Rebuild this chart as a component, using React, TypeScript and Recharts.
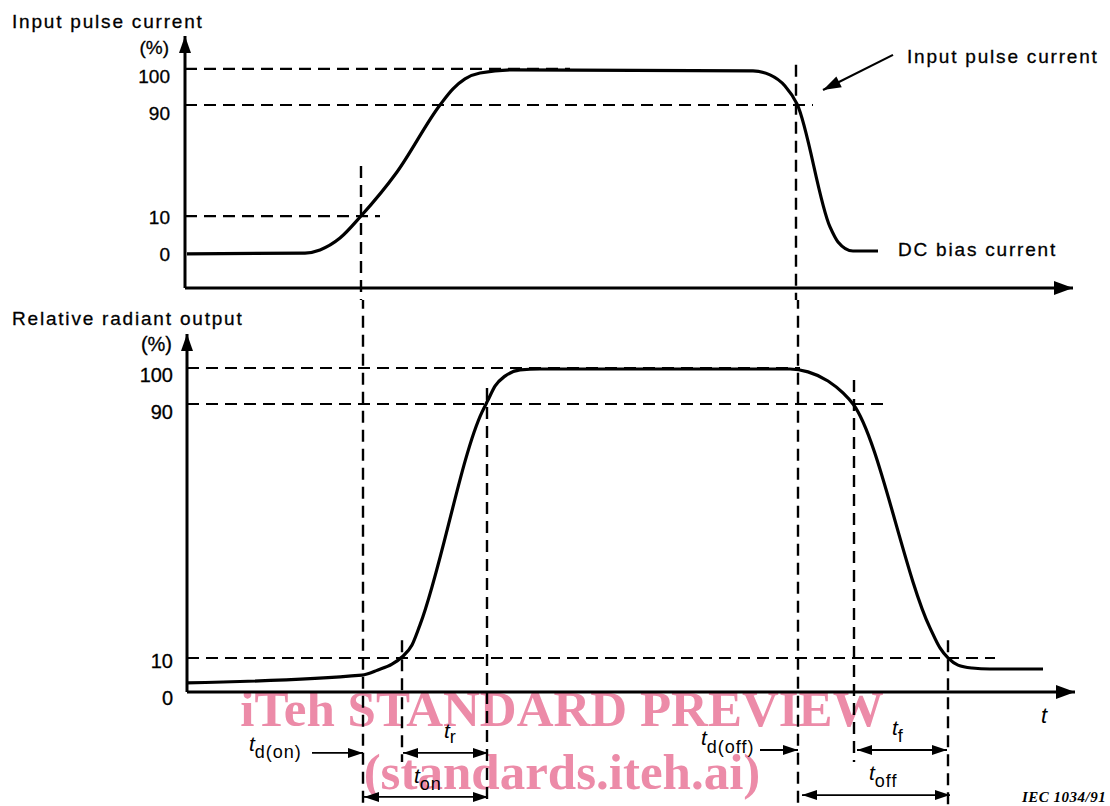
import React from "react";
import {
  LineChart,
  Line,
  XAxis,
  YAxis,
  ReferenceLine,
  ReferenceDot,
} from "recharts";

// The figure is a schematic, not to scale. Time runs in arbitrary steps
// along the t axis and "level" is the drawn height on each % scale, so the
// 10 % / 90 % ticks sit where the original drawing puts them.

const TIME_MAX = 88.8;

// ---- top panel: input pulse current ----
const inputTicks = [0, 20.5, 80.5, 100];
const inputTickLabels = ["0", "10", "90", "100"];
const inputTime = [0.2, 12, 13.5, 15.5, 17.6, 21.2, 25.5, 26.8, 28, 29.5, 32.8, 56.8, 58.5, 60, 61.2, 64.5, 65.3, 66.8, 69.3];
const inputLevel = [0, 0.5, 2.2, 8.6, 20.5, 44.3, 80.5, 89.2, 94.6, 97.8, 99.5, 98.9, 96.8, 90.8, 81.1, 14.6, 6.5, 1.6, 1.6];

// ---- bottom panel: relative radiant output ----
const outputTicks = [0, 10.5, 88.9, 100];
const outputTickLabels = ["0", "10", "90", "100"];
const outputTime = [0, 17.5, 19.1, 20.5, 21.5, 22.5, 23.3, 29.5, 30.1, 30.8, 31.8, 33.3, 35.3, 60.3, 62.1, 64.1, 65.6, 66.6, 74.3, 75.3, 76.1, 77.1, 78.5, 80.3, 85.6];
const outputLevel = [2.8, 5.2, 6.8, 8.6, 10.8, 14.5, 20.7, 86.4, 90.1, 94.4, 97.5, 99.4, 99.7, 99.7, 98.8, 96, 92.3, 88.9, 19.8, 13.6, 10.5, 8.3, 7.4, 7.1, 7.1];

// instants marked by the vertical guides
const T_IN_10 = 17.6; // input reaches 10 %
const T_OUT_10 = 21.5; // output reaches 10 %
const T_OUT_90 = 30.0; // output reaches 90 %
const T_IN_90_FALL = 61.1; // input back down to 90 %
const T_OUT_90_FALL = 66.7;
const T_OUT_10_FALL = 76.1;

const inputVerticals = [
  { t: T_IN_10, from: 47.6, to: -27 },
  { t: T_IN_90_FALL, from: 102.2, to: -27 },
];
const outputVerticals = [
  { t: T_IN_10, from: 122, to: -36 },
  { t: T_OUT_10, from: 16, to: -21.6 },
  { t: T_OUT_90, from: 93.8, to: -36 },
  { t: T_IN_90_FALL, from: 122, to: -36 },
  { t: T_OUT_90_FALL, from: 96.3, to: -21.6 },
  { t: T_OUT_10_FALL, from: 16, to: -36 },
];

const inputGuides = [
  { level: 100, end: 38.5 },
  { level: 80.5, end: 62.8 },
  { level: 20.5, end: 19.5 },
];
const outputGuides = [
  { level: 100, end: 61.3 },
  { level: 88.9, end: 69.8 },
  { level: 10.5, end: 80.8 },
];

// timing arrows under the output axis
const timingArrows = [
  { from: 12.5, to: T_IN_10, level: -18.8, both: false },
  { from: 21.6, to: 30.1, level: -18.8, both: true },
  { from: 17.7, to: 30.1, level: -32.4, both: true },
  { from: 57.3, to: T_IN_90_FALL, level: -17.9, both: false },
  { from: 67.0, to: 76.0, level: -17.9, both: true },
  { from: 61.5, to: 76.3, level: -31.8, both: true },
];

const FONT = '"Liberation Sans", Arial, Helvetica, sans-serif';
const SERIF = '"Liberation Serif", "Times New Roman", serif';
const AXIS_LINE = { stroke: "#000", strokeWidth: 3 };
const DASH = "12 7";

const INPUT_NUDGE: Record<string, number> = { "100": 8, "90": 8, "10": 1, "0": 1 };
const OUTPUT_NUDGE: Record<string, number> = { "100": 7, "90": 8, "10": 3, "0": 6 };

function makeTick(ticks: number[], labels: string[], nudge: Record<string, number>, size: number) {
  return (props: any) => {
    const { x, y, payload } = props;
    const label = labels[ticks.indexOf(payload.value)] ?? "";
    return (
      <text
        x={x}
        y={y + (nudge[label] ?? 0)}
        textAnchor="end"
        dominantBaseline="central"
        fontFamily={FONT}
        fontSize={size}
        fill="#000"
        stroke="#000"
        strokeWidth={0.3}
      >
        {label}
      </text>
    );
  };
}

function UpHead(props: any) {
  const { cx, cy } = props;
  return <polygon points={`${cx},${cy} ${cx - 6},${cy + 17} ${cx + 6},${cy + 17}`} fill="#000" />;
}

function RightHead(props: any) {
  const { cx, cy } = props;
  return <polygon points={`${cx},${cy} ${cx - 19},${cy - 7} ${cx - 19},${cy + 7}`} fill="#000" />;
}

function head(x: number, y: number, dx: number, dy: number, len: number, half: number) {
  const d = Math.hypot(dx, dy) || 1;
  const ux = dx / d;
  const uy = dy / d;
  const bx = x - ux * len;
  const by = y - uy * len;
  return `${x},${y} ${bx - uy * half},${by + ux * half} ${bx + uy * half},${by - ux * half}`;
}

function ArrowLine(props: any) {
  const { x1, y1, x2, y2, both, width = 1.8, len = 15, half = 5 } = props;
  return (
    <g>
      <line x1={x1} y1={y1} x2={x2} y2={y2} stroke="#000" strokeWidth={width} />
      <polygon points={head(x2, y2, x2 - x1, y2 - y1, len, half)} fill="#000" />
      {both && <polygon points={head(x1, y1, x1 - x2, y1 - y2, len, half)} fill="#000" />}
    </g>
  );
}

function TLabel({ x, y, sub, dy = 7 }: { x: number; y: number; sub: string; dy?: number }) {
  return (
    <text x={x} y={y} fontFamily={FONT} fill="#000">
      <tspan fontSize={21} fontStyle="italic">t</tspan>
      <tspan fontSize={18} dy={dy} letterSpacing={1}>{sub}</tspan>
    </text>
  );
}

function InputPanel() {
  const data = inputTime.map((t, i) => ({ t, level: inputLevel[i] }));
  const yMin = -18.4;
  const yMax = 117.8;
  return (
    <LineChart width={1110} height={300} data={data} margin={{ top: 36, right: 37, bottom: 0, left: 125 }}>
      <XAxis dataKey="t" type="number" domain={[0, TIME_MAX]} allowDataOverflow tick={false} tickLine={false} axisLine={AXIS_LINE} height={12} />
      <YAxis
        type="number"
        domain={[yMin, yMax]}
        allowDataOverflow
        ticks={inputTicks}
        interval={0}
        width={60}
        tickSize={0}
        tickMargin={15}
        tickLine={false}
        axisLine={AXIS_LINE}
        tick={makeTick(inputTicks, inputTickLabels, INPUT_NUDGE, 19)}
      />
      {inputGuides.map((g) => (
        <ReferenceLine key={`h${g.level}`} segment={[{ x: 0, y: g.level }, { x: g.end, y: g.level }]} stroke="#000" strokeWidth={2.2} strokeDasharray={DASH} ifOverflow="visible" />
      ))}
      {inputVerticals.map((v) => (
        <ReferenceLine key={`v${v.t}`} segment={[{ x: v.t, y: v.from }, { x: v.t, y: v.to }]} stroke="#000" strokeWidth={2.4} strokeDasharray={DASH} ifOverflow="visible" />
      ))}
      <ReferenceLine
        segment={[{ x: 70.8, y: 107.6 }, { x: 63.8, y: 88.6 }]}
        ifOverflow="visible"
        shape={(p: any) => <ArrowLine {...p} both={false} width={2.2} len={18} half={6} />}
      />
      <Line type="monotone" dataKey="level" stroke="#000" strokeWidth={3.2} dot={false} isAnimationActive={false} />
      <ReferenceDot x={0} y={yMax} ifOverflow="visible" shape={UpHead} />
      <ReferenceDot x={TIME_MAX} y={yMin} ifOverflow="visible" shape={RightHead} />
    </LineChart>
  );
}

function OutputPanel() {
  const data = outputTime.map((t, i) => ({ t, level: outputLevel[i] }));
  const yMin = 0;
  const yMax = 110.5;
  return (
    <LineChart width={1110} height={506} data={data} margin={{ top: 34, right: 35, bottom: 84, left: 127 }}>
      <XAxis dataKey="t" type="number" domain={[0, TIME_MAX]} allowDataOverflow tick={false} tickLine={false} axisLine={AXIS_LINE} height={30} />
      <YAxis
        type="number"
        domain={[yMin, yMax]}
        allowDataOverflow
        ticks={outputTicks}
        interval={0}
        width={60}
        tickSize={0}
        tickMargin={14}
        tickLine={false}
        axisLine={AXIS_LINE}
        tick={makeTick(outputTicks, outputTickLabels, OUTPUT_NUDGE, 20)}
      />
      {outputGuides.map((g) => (
        <ReferenceLine key={`h${g.level}`} segment={[{ x: 0, y: g.level }, { x: g.end, y: g.level }]} stroke="#000" strokeWidth={2.2} strokeDasharray={DASH} ifOverflow="visible" />
      ))}
      {outputVerticals.map((v) => (
        <ReferenceLine key={`v${v.t}`} segment={[{ x: v.t, y: v.from }, { x: v.t, y: v.to }]} stroke="#000" strokeWidth={2.4} strokeDasharray={DASH} ifOverflow="visible" />
      ))}
      {timingArrows.map((a, i) => (
        <ReferenceLine
          key={`a${i}`}
          segment={[{ x: a.from, y: a.level }, { x: a.to, y: a.level }]}
          ifOverflow="visible"
          shape={(p: any) => <ArrowLine {...p} both={a.both} />}
        />
      ))}
      <Line type="monotone" dataKey="level" stroke="#000" strokeWidth={3.2} dot={false} isAnimationActive={false} />
      <ReferenceDot x={0} y={yMax} ifOverflow="visible" shape={UpHead} />
      <ReferenceDot x={TIME_MAX} y={yMin} ifOverflow="visible" shape={RightHead} />
    </LineChart>
  );
}

export default function App() {
  const label = { fontFamily: FONT, fontSize: 19, letterSpacing: 1.8, fill: "#000", stroke: "#000", strokeWidth: 0.3 };
  return (
    <div style={{ position: "absolute", left: 0, top: 0, width: 1110, height: 806, background: "#fff", overflow: "hidden" }}>
      <svg width={1110} height={806} style={{ position: "absolute", left: 0, top: 0 }}>
        <g fontFamily={SERIF} fontWeight="bold" fontSize={51} fill="#ec8ba8" textAnchor="middle">
          <text x={562} y={726}>iTeh STANDARD PREVIEW</text>
          <text x={562} y={789}>(standards.iteh.ai)</text>
        </g>
        <text x={12} y={28} {...label}>Input pulse current</text>
        <text x={169} y={54} textAnchor="end" fontFamily={FONT} fontSize={19} stroke="#000" strokeWidth={0.3}>(%)</text>
        <text x={907} y={63} {...label}>Input pulse current</text>
        <text x={898} y={256} {...label}>DC bias current</text>
        <text x={12} y={325} {...label}>Relative radiant output</text>
        <text x={172} y={351} textAnchor="end" fontFamily={FONT} fontSize={20} stroke="#000" strokeWidth={0.3}>(%)</text>
        <text x={1041} y={723} fontFamily={FONT} fontSize={22} fontStyle="italic">t</text>
        <TLabel x={249} y={751} sub="d(on)" />
        <TLabel x={444} y={738} sub="r" dy={5} />
        <TLabel x={414} y={783} sub="on" />
        <TLabel x={701} y={745} sub="d(off)" dy={8} />
        <TLabel x={892} y={735} sub="f" />
        <TLabel x={869} y={780} sub="off" />
        <text x={1022} y={802} fontFamily={SERIF} fontWeight="bold" fontStyle="italic" fontSize={15} letterSpacing={0.5}>IEC 1034/91</text>
      </svg>
      <div style={{ position: "absolute", left: 0, top: 0 }}>
        <InputPanel />
      </div>
      <div style={{ position: "absolute", left: 0, top: 300 }}>
        <OutputPanel />
      </div>
    </div>
  );
}
